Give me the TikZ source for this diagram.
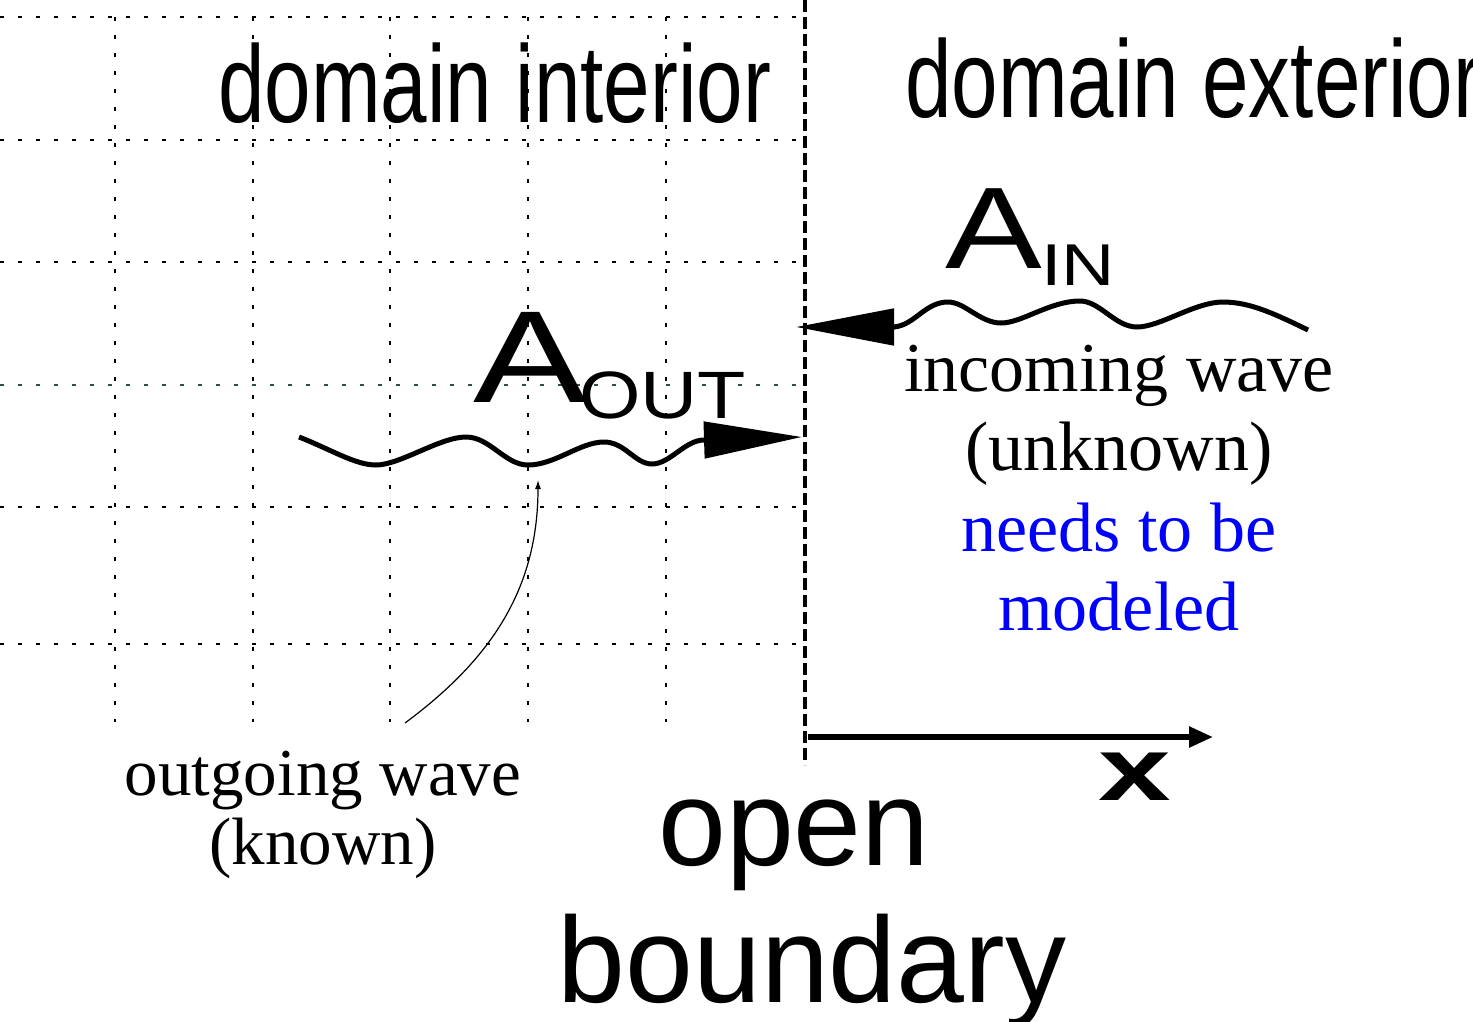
\documentclass[tikz,border=0pt]{standalone}
\usepackage{fontspec}
\setmainfont{Liberation Serif}
\setsansfont{Liberation Sans}
\usetikzlibrary{arrows.meta}
\definecolor{gridslate}{RGB}{47,79,79}

\begin{document}
\begin{tikzpicture}[x=1pt, y=-1pt,
    every node/.style={inner sep=0pt, align=center},
    gridline/.style={line width=2pt, dash pattern=on 4pt off 14pt},
    wave/.style={line width=5pt},
    bigsans/.style={font=\sffamily\fontsize{110}{120}\selectfont},
    note/.style={font=\fontsize{70}{79}\selectfont}]
    \useasboundingbox (0,0) rectangle (1473,1021);
    \clip (0,0) rectangle (1473,1021);
    % mesh of the interior
    \draw[gridline] (0,17) -- (805,17);
    \draw[gridline] (0,140) -- (805,140);
    \draw[gridline] (0,262) -- (805,262);
    \draw[gridline, gridslate] (0,385) -- (805,385);
    \draw[gridline] (0,507) -- (805,507);
    \draw[gridline] (0,644) -- (805,644);
    \draw[gridline] (115,17) -- (115,722);
    \draw[gridline] (253,17) -- (253,722);
    \draw[gridline] (390,17) -- (390,722);
    \draw[gridline] (528,17) -- (528,722);
    \draw[gridline] (666,17) -- (666,722);
    % open boundary
    \draw[line width=4pt, dash pattern=on 12pt off 5pt] (805,0) -- (805,765);
    \node[bigsans, anchor=base west] (inside) at (218,122) {\scalebox{0.76}[1]{domain interior}};
    \node[bigsans, anchor=base west] (outside) at (905,117) {\scalebox{0.76}[1]{domain exterior}};
    % outgoing wave
    \node[font=\sffamily\fontsize{131}{140}\selectfont, anchor=base west] (aout) at (473,402) {\scalebox{1.3}[1]{A}};
    \node[font=\sffamily\fontsize{67}{70}\selectfont, anchor=base west] (aoutsub) at (579,418) {\scalebox{1.18}[1]{OUT}};
    \draw[wave, -{Triangle[length=98pt, width=36pt]}] (299,437)
        .. controls (330,449) and (355,465) .. (376,465)
        .. controls (400,465) and (440,437) .. (466,437)
        .. controls (490,437) and (505,465) .. (528,465)
        .. controls (555,465) and (580,442) .. (604,442)
        .. controls (625,442) and (635,464) .. (652,464)
        .. controls (670,464) and (685,440) .. (704,440) -- (802,437);
    % incoming wave
    \node[font=\sffamily\fontsize{116}{124}\selectfont, anchor=base west] (ain) at (945,268) {\scalebox{1.25}[1]{A}};
    \node[font=\sffamily\fontsize{59}{64}\selectfont, anchor=base west] (ainsub) at (1041,285) {\scalebox{1.25}[1]{IN}};
    \draw[wave, -{Triangle[length=98pt, width=36pt]}] (1308,330)
        .. controls (1275,314) and (1250,302) .. (1223,302)
        .. controls (1195,302) and (1160,327) .. (1137,327)
        .. controls (1115,327) and (1100,301) .. (1080,301)
        .. controls (1050,301) and (1022,323) .. (1001,323)
        .. controls (980,323) and (965,302) .. (948,302)
        .. controls (925,302) and (915,325) .. (894,327) -- (796,327);
    \node[note, anchor=base] (inlbl) at (1119,470) {incoming wave\\(unknown)};
    \node[note, anchor=base, text=blue] (modlbl) at (1119,630) {needs to be\\modeled};
    % note for the outgoing wave
    \node[font=\fontsize{67}{69}\selectfont, anchor=base] (outlbl) at (323,864) {outgoing wave\\(known)};
    \coordinate (outnote) at (405,723);
    \coordinate (outpoint) at (538,480);
    \draw[line width=1.2pt, -{Latex[length=9pt, width=6pt]}] (outnote) .. controls (490,660) and (538,590) .. (outpoint);
    % axis
    \coordinate (axstart) at (808,737);
    \coordinate (axend) at (1213,737);
    \draw[line width=5.5pt, -{Triangle[length=24pt, width=20pt]}] (axstart) -- (axend);
    \node[font=\sffamily\bfseries\fontsize{90}{96}\selectfont, anchor=base west] (xlbl) at (1098,800) {\scalebox{1.45}[1]{x}};
    \node[font=\sffamily\fontsize{122}{135}\selectfont, anchor=base] (openlbl) at (794,865) {open};
    \node[font=\sffamily\fontsize{122}{135}\selectfont, anchor=base] (boundlbl) at (812,1002) {boundary};
\end{tikzpicture}
\end{document}
